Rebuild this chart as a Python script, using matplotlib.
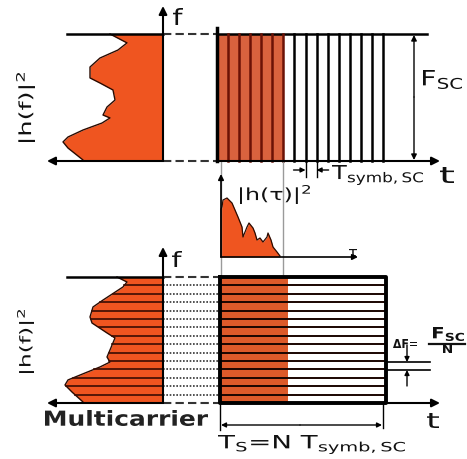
import numpy as np
import matplotlib.pyplot as plt
from matplotlib.textpath import TextPath
from matplotlib.patches import PathPatch
from matplotlib.font_manager import FontProperties
from matplotlib.transforms import Affine2D

plt.rcParams['mathtext.default'] = 'regular'

# ---- data ----
# single carrier: |h(f)|^2 profile (f from 0 bottom to 1 top, mag as depth left of the f axis)
sc_f = [1.0, 0.93, 0.874, 0.811, 0.74, 0.654, 0.614, 0.559, 0.48, 0.425, 0.362,
        0.339, 0.299, 0.244, 0.189, 0.15, 0.102, 0.008, 0.0]
sc_mag = [0.53, 0.36, 0.45, 0.63, 0.73, 0.73, 0.63, 0.50, 0.48, 0.56, 0.60,
          0.53, 0.61, 0.80, 0.95, 1.00, 0.95, 0.80, 0.80]
# multicarrier: |h(f)|^2 profile
mc_f = [1.0, 0.96, 0.921, 0.817, 0.762, 0.683, 0.635, 0.556, 0.516, 0.421, 0.365,
        0.325, 0.286, 0.238, 0.183, 0.143, 0.087, 0.008, 0.0]
mc_mag = [0.46, 0.36, 0.40, 0.60, 0.70, 0.73, 0.71, 0.56, 0.48, 0.53, 0.56,
          0.53, 0.63, 0.78, 0.95, 0.98, 0.91, 0.80, 0.80]
# power delay profile |h(tau)|^2
pdp_tau = [0, 0, 1, 2, 6, 11, 14, 17, 21, 22, 26, 28, 32, 34, 36, 39, 42, 46, 47,
           50, 52, 56, 59]
pdp_val = [0, 48, 50, 57, 59, 54, 47, 40, 30, 20, 30, 34, 29, 24, 17, 19, 15, 20,
           24, 17, 10, 5, 1]

n_symbols = 15      # stripes in the single carrier frame
n_carriers = 15     # subcarriers in the multicarrier frame
n_spread = 6        # symbols covered by the delay spread

# ---- figure in pixel coordinates ----
fig = plt.figure(figsize=(4.67, 4.59), dpi=100)
ax = fig.add_axes([0, 0, 1, 1])
ax.set_xlim(0, 467)
ax.set_ylim(459, 0)
ax.axis('off')

k = 'black'
spec_col = '#ef5520'


def arrow(x0, y0, x1, y1, lw=1.5, ms=12, style='-|>', col=k):
    ax.annotate('', xy=(x1, y1), xytext=(x0, y0),
                arrowprops=dict(arrowstyle=style, lw=lw, color=col,
                                mutation_scale=ms, shrinkA=0, shrinkB=0))


def stext(s, box, bold=False, rot=False, col='#111111'):
    # text drawn as a path, fitted into box (left, top, width, height) - the
    # source picture is stretched sideways so plain text never fits
    fp = FontProperties(family='DejaVu Sans', weight='bold' if bold else 'normal')
    p = TextPath((0, 0), s, size=20, prop=fp)
    tr = Affine2D()
    if rot:
        tr.rotate_deg(90)
    tr.scale(1, -1)
    p = tr.transform_path(p)
    e = p.get_extents()
    bx, by, bw, bh = box
    fit = Affine2D().translate(-e.x0, -e.y0).scale(bw / e.width, bh / e.height).translate(bx, by)
    ax.add_patch(PathPatch(fit.transform_path(p), color=col, lw=0))


def spectrum(f, mag, xa, ytop, ybot):
    ys = ybot - np.array(f) * (ybot - ytop)
    xs = xa - np.array(mag) * 100
    ax.fill_betweenx(ys, xs, xa, color=spec_col, lw=0)
    ax.plot(xs, ys, color='#2a0a00', lw=1.0)
    return xs, ys


# ================= top: single carrier =================
fa, t0, t1 = 163, 217, 383
yt, yb = 34, 161
spectrum(sc_f, sc_mag, fa, yt, yb)
ax.plot([67, fa], [yt, yt], color=k, lw=1.8)
ax.plot([fa, t0], [yt, yt], color='#333333', lw=1.5, ls=(0, (4, 2)))
ax.plot([fa, t0], [yb, yb], color='#333333', lw=1.5, ls=(0, (4, 2)))
arrow(fa, yb, 47, yb)
arrow(fa, yb, fa, 6)
arrow(t0, yb, 440, yb)
ax.plot([t0, 427], [yt, yt], color=k, lw=1.8)
stext('f', (173, 8, 10, 17))
stext('$|h(f)|^2$', (16, 73, 19, 69), rot=True)
# stripes
xs = np.linspace(t0, t1, n_symbols + 1)
ax.fill_between([xs[0], xs[n_spread]], yt, yb, color='#d9623e', lw=0)
for i, x in enumerate(xs):
    col = '#6b1206' if 0 < i <= n_spread else k
    ax.plot([x, x], [yt, yb], color=col, lw=1.8)
ax.plot([t0, t0], [28, yb], color=k, lw=2.5)
# F_SC
arrow(414, 97, 414, yt + 1, lw=1, ms=8)
arrow(414, 97, 414, yb - 1, lw=1, ms=8)
stext('$F_{SC}$', (423, 70, 39, 19))
# T_symb,SC
ax.plot([xs[8], xs[8]], [yb, 177], color=k, lw=1)
ax.plot([xs[9], xs[9]], [yb, 177], color=k, lw=1)
arrow(xs[8] - 12, 170, xs[8], 170, lw=1, ms=7)
arrow(xs[9] + 12, 170, xs[9], 170, lw=1, ms=7)
stext('$T_{symb,SC}$', (332, 165, 91, 20))
stext('t', (440, 167, 14, 16))

# ================= middle: delay profile =================
ox, oy = 221, 257
ax.plot([ox, ox], [yb, 277], color='#9a9a9a', lw=1)
ax.plot([xs[n_spread], xs[n_spread]], [yb, 277], color='#9a9a9a', lw=1)
px = ox + np.array(pdp_tau)
py = oy - np.array(pdp_val)
ax.fill_between(px, py, oy, color=spec_col, lw=0)
ax.plot(px, py, color='#2a0a00', lw=0.9)
arrow(ox, oy, ox, 174, lw=1.2, ms=8)
arrow(ox, oy, 358, oy, lw=1.2, ms=8)
stext(r'$|h(\tau)|^2$', (240, 185, 70, 19))
stext(r'$\tau$', (349, 249, 8, 7))

# ================= bottom: multicarrier =================
yt2, yb2 = 277, 403
b0, b1 = 220, 386
sx, sy = spectrum(mc_f, mc_mag, fa, yt2, yb2)
ax.plot([67, fa], [yt2, yt2], color=k, lw=1.8)
ax.plot([fa, b0], [yt2, yt2], color='#333333', lw=1.5, ls=(0, (4, 2)))
ax.plot([fa, b0], [yb2, yb2], color='#333333', lw=1.5, ls=(0, (4, 2)))
arrow(fa, yb2, 47, yb2)
arrow(fa, yb2, fa, 247)
arrow(b0, yb2, 440, yb2)
stext('f', (172, 251, 10, 16))
stext('$|h(f)|^2$', (17, 310, 17, 63), rot=True)
# frame
bx_spread = b0 + (xs[n_spread] - t0) + 2
ax.fill_between([b0, bx_spread], yt2, yb2, color='#dd5a2a', lw=0)
ys = np.linspace(yt2, yb2, n_carriers + 1)
order = np.argsort(sy)
for y in ys[1:-1]:
    xl = np.interp(y, sy[order], sx[order])
    ax.plot([xl, fa], [y, y], color='#3a0c02', lw=1.2)
    ax.plot([fa, b0], [y, y], color='#333333', lw=1.2, ls=(0, (1, 1)))
    ax.plot([b0, b1], [y, y], color='#1a0500', lw=1.4)
ax.plot([b0, b1, b1, b0, b0], [yt2, yt2, yb2, yb2, yt2], color=k, lw=2.8)
# delta F
ax.plot([b1, 430], [362, 362], color=k, lw=1.2)
ax.plot([b1, 430], [370, 370], color=k, lw=1.2)
arrow(407, 345, 407, 362, lw=1, ms=7)
arrow(407, 386, 407, 370, lw=1, ms=7)
stext(r'$\Delta F$', (393, 339, 15, 9), bold=True)
stext('=', (410, 342, 7, 4), bold=True)
stext('$F_{SC}$', (433, 327, 31, 14), bold=True)
ax.plot([429, 465], [343.5, 343.5], color='#111111', lw=1.6)
stext('N', (443, 345, 9, 8), bold=True)
stext('t', (427, 413, 12, 15))
# T_S
ax.plot([b0, b0], [yb2, 430], color=k, lw=1)
ax.plot([383, 383], [yb2, 428], color=k, lw=1)
arrow(300, 425, b0 + 1, 425, lw=1, ms=7)
arrow(300, 425, 382, 425, lw=1, ms=7)
stext('$T_S$=N $T_{symb,SC}$', (218, 435, 187, 19))
stext('Multicarrier', (45, 410, 163, 16), bold=True, col='#222222')

fig.savefig('out.png', dpi=100)
